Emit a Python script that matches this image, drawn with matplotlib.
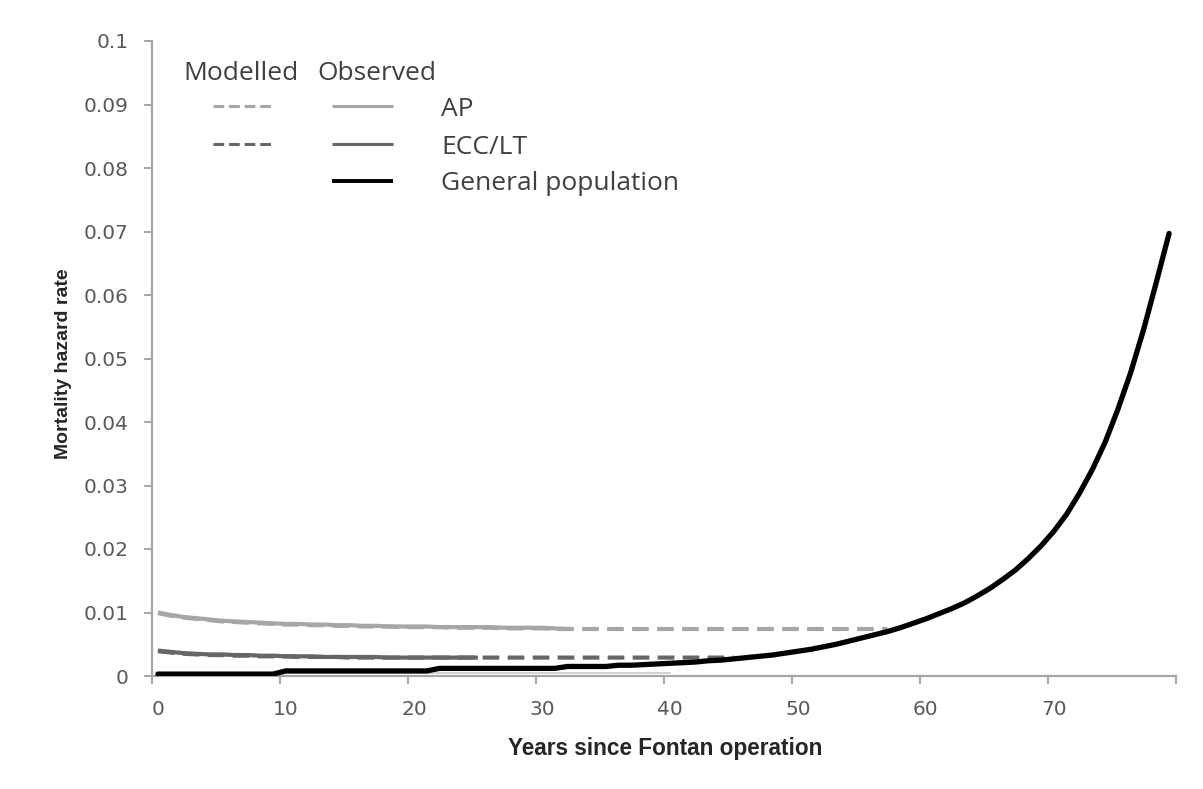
import matplotlib
matplotlib.use("Agg")
import matplotlib.pyplot as plt
from matplotlib.lines import Line2D

# ---------------- data ----------------
years = list(range(80))  # categories 0..79

general_population = (
    [0.0003] * 10 + [0.0008] * 12 + [0.0012] * 10 + [0.0015] * 4 +
    [0.0017, 0.0017, 0.0018, 0.0019,
     0.0020, 0.0021, 0.0022, 0.0024, 0.0025, 0.0027, 0.0029, 0.0031, 0.0033, 0.0036,
     0.0039, 0.0042, 0.0046, 0.0050, 0.0055, 0.0060, 0.0065, 0.0070, 0.0076, 0.0083,
     0.0090, 0.0098, 0.0106, 0.0115, 0.0126, 0.0138, 0.0152, 0.0167, 0.0185, 0.0205,
     0.0228, 0.0255, 0.0288, 0.0325, 0.0368, 0.0420, 0.0478, 0.0545, 0.0620, 0.0697]
)

gp_faint = [0.0004] * 41  # faint grey trace under the black line (years 0..40)

ap_observed = [0.0100, 0.0096, 0.0093, 0.0091, 0.0089, 0.0087, 0.0086, 0.0085, 0.0084,
               0.0083, 0.0082, 0.0082, 0.0081, 0.0081, 0.0080, 0.0080, 0.0079, 0.0079,
               0.0078, 0.0078, 0.0078, 0.0078, 0.0077, 0.0077, 0.0077, 0.0077, 0.0077,
               0.0076, 0.0076, 0.0076, 0.0076, 0.0075, 0.0074]

ap_modelled = ([0.0099, 0.0095, 0.0092, 0.0090, 0.0088, 0.0086, 0.0085, 0.0084, 0.0083,
                0.0082, 0.0081, 0.0081, 0.0080, 0.0080, 0.0079, 0.0079, 0.0078, 0.0078,
                0.0078, 0.0077, 0.0077, 0.0077, 0.0077, 0.0076, 0.0076, 0.0076, 0.0076,
                0.0075, 0.0075, 0.0075, 0.0075, 0.0074, 0.0074] + [0.0074] * 25)

ecc_observed = [0.0040, 0.0038, 0.0036, 0.0035, 0.0034, 0.0034, 0.0033, 0.0033, 0.0032,
                0.0032, 0.0031, 0.0031, 0.0031, 0.0030, 0.0030, 0.0030, 0.0030, 0.0030,
                0.0029, 0.0029, 0.0029, 0.0029, 0.0029, 0.0029, 0.0029, 0.0029]

ecc_modelled = ([0.0039, 0.0037, 0.0035, 0.0034, 0.0033, 0.0033, 0.0032, 0.0032, 0.0031,
                 0.0031, 0.0031, 0.0030, 0.0030, 0.0030, 0.0030, 0.0029, 0.0029, 0.0029]
                + [0.0029] * 28)

y_ticks = [0, 0.01, 0.02, 0.03, 0.04, 0.05, 0.06, 0.07, 0.08, 0.09, 0.1]
y_ticklabels = ["0", "0.01", "0.02", "0.03", "0.04", "0.05", "0.06", "0.07", "0.08", "0.09", "0.1"]
x_ticklabels = ["0", "10", "20", "30", "40", "50", "60", "70"]

# ---------------- styling ----------------
C_AP = "#a6a6a6"
C_ECC = "#666666"
C_GP = "#000000"
C_AXIS = "#a6a6a6"
C_TICK = "#595959"
C_TEXT = "#404040"
TICK_FONT = ["DejaVu Sans"]
FONT = ["Open Sans", "DejaVu Sans"]
TITLE_FONT = ["Liberation Sans", "DejaVu Sans"]

W, H = 1203, 789
fig = plt.figure(figsize=(W / 100, H / 100), dpi=100)
fig.patch.set_facecolor("white")
ax = fig.add_axes([151.5 / W, 1 - 676 / H, 1024 / W, 635 / H])

def xpos(seq, start=0):
    return [years[start + i] + 0.5 for i in range(len(seq))]

lw = 3.0
dash = (4, 2)
ax.plot(xpos(gp_faint), gp_faint, color="#c8c8c8", lw=1.2, zorder=1)
ax.plot(xpos(ap_observed), ap_observed, color=C_AP, lw=lw, solid_capstyle="butt", zorder=2)
ax.plot(xpos(ap_modelled), ap_modelled, color=C_AP, lw=lw, dashes=dash, zorder=3)
ax.plot(xpos(ecc_observed), ecc_observed, color=C_ECC, lw=lw, solid_capstyle="butt", zorder=2)
ax.plot(xpos(ecc_modelled), ecc_modelled, color=C_ECC, lw=lw, dashes=dash, zorder=3)
ax.plot(xpos(general_population), general_population, color=C_GP, lw=3.8,
        solid_capstyle="round", solid_joinstyle="round", zorder=5)

ax.set_xlim(0, 80)
ax.set_ylim(0, 0.1)
for s in ("top", "right"):
    ax.spines[s].set_visible(False)
for s in ("left", "bottom"):
    ax.spines[s].set_color(C_AXIS)
    ax.spines[s].set_linewidth(1.6)

ax.set_yticks(y_ticks)
ax.set_yticklabels(y_ticklabels, fontsize=14.5, color=C_TICK, family=TICK_FONT)
ax.tick_params(axis="y", direction="out", length=5.5, width=1.4, color=C_AXIS, pad=11)

ax.set_xticks(range(0, 81, 10))
ax.set_xticklabels([])
ax.set_xticks([v + 0.5 for v in range(0, 71, 10)], minor=True)
ax.set_xticklabels(x_ticklabels, minor=True, fontsize=14.5, color=C_TICK, family=TICK_FONT)
ax.tick_params(axis="x", which="major", direction="out", length=5.5, width=1.4, color=C_AXIS)
ax.tick_params(axis="x", which="minor", length=0, pad=17)

fig.text(665 / W, 1 - 748 / H, "Years since Fontan operation", ha="center", va="center",
         fontsize=16.3, fontweight="bold", color="#262626", family=TITLE_FONT)
fig.text(63 / W, 1 - 364 / H, "Mortality hazard rate", ha="center", va="center",
         rotation=90, fontsize=14, fontweight="bold", color="#262626", family=TITLE_FONT)

# ---------------- legend (manual) ----------------
def fx(px):
    return px / W

def fy(py):
    return 1 - py / H

LEG_FS = 19
fig.text(fx(183), fy(73), "Modelled", ha="left", va="center", fontsize=LEG_FS, color=C_TEXT, family=FONT)
fig.text(fx(317), fy(73), "Observed", ha="left", va="center", fontsize=LEG_FS, color=C_TEXT, family=FONT)
legend_rows = [
    ("AP", C_AP, True, 106, 2.2),
    ("ECC/LT", C_ECC, True, 144, 2.2),
    ("General population", C_GP, False, 181, 2.8),
]
for label, col, has_model, py, w in legend_rows:
    if has_model:
        fig.add_artist(Line2D([fx(213), fx(274)], [fy(py), fy(py)], transform=fig.transFigure,
                              color=col, lw=w, dashes=(3.5, 1.6)))
    fig.add_artist(Line2D([fx(332), fx(393)], [fy(py), fy(py)], transform=fig.transFigure,
                          color=col, lw=w, solid_capstyle="butt"))
    fig.text(fx(441), fy(py + 3), label, ha="left", va="center", fontsize=LEG_FS,
             color=C_TEXT, family=FONT)

fig.savefig("out.png", dpi=100, facecolor="white")
